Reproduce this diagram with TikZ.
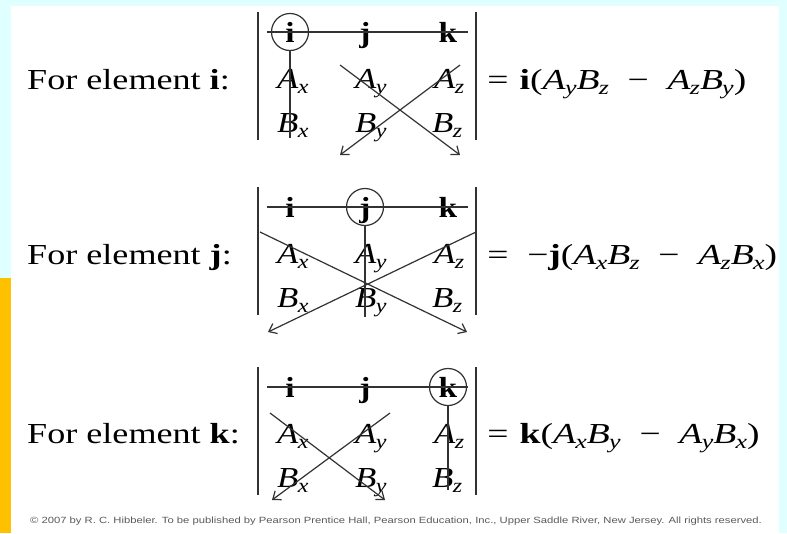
\documentclass[tikz,border=0pt]{standalone}
\usepackage{fontspec}
\setmainfont{Liberation Serif}
\newfontfamily\notefont{Liberation Sans}
\usetikzlibrary{arrows.meta}
\definecolor{skybg}{RGB}{224,255,255}
\definecolor{goldbar}{RGB}{255,192,0}
\definecolor{inkgray}{RGB}{50,50,50}
\definecolor{notegray}{RGB}{90,90,90}
% italic letter with italic subscript
\newcommand{\ent}[2]{\textit{#1}\kern-0.02em\raisebox{-0.45ex}{\fontsize{20}{20}\selectfont\textit{#2}}}
\newcommand{\gap}{\hspace{0.5em}}
\newcommand{\eqgap}{\hspace{0.3em}}

\tikzset{
  lbl/.style={font=\fontsize{29}{30}\selectfont, anchor=base west, inner sep=0pt, xscale=1.245},
  entry/.style={font=\fontsize{29}{30}\selectfont, anchor=base west, inner sep=0pt, xscale=1.2},
  result/.style={entry, xscale=1.08},
  unit/.style={font=\fontsize{29}{30}\selectfont\bfseries, anchor=base, inner sep=0pt, xscale=1.15},
  bar/.style={line width=1.6pt, inkgray},
  strike/.style={line width=1.2pt, inkgray},
  cross/.style={strike, -{Straight Barb[length=7pt,width=11pt]}},
  pick/.style={draw=inkgray, line width=1.2pt, circle, minimum size=37pt, inner sep=0pt},
}

\begin{document}
\begin{tikzpicture}[x=1pt,y=-1pt]
  \fill[skybg] (0,0) rectangle (787,533);
  \fill[goldbar] (0,278) rectangle (11,533);
  \fill[white] (11,6) rectangle (779,533);

  % determinant frame, unit row and entries
  \foreach \p/\r in {1/32,2/207,3/387} {
    \draw[bar] (258,\r-20) -- (258,\r+108);
    \draw[bar] (476,\r-20) -- (476,\r+108);
    \node[unit] (i\p) at (290,\r+10) {i};
    \node[unit] (j\p) at (365,\r+10) {j};
    \node[unit] (k\p) at (448,\r+10) {k};
    \coordinate (sl\p) at (267,\r);
    \coordinate (sr\p) at (468,\r);
    \draw[strike] (sl\p) -- (sr\p);
    \node[entry] (ax\p) at (277,\r+56) {\ent{A}{x}};
    \node[entry] (ay\p) at (355,\r+56) {\ent{A}{y}};
    \node[entry] (az\p) at (434,\r+56) {\ent{A}{z}};
    \node[entry] (bx\p) at (277,\r+100) {\ent{B}{x}};
    \node[entry] (by\p) at (355,\r+100) {\ent{B}{y}};
    \node[entry] (bz\p) at (432,\r+100) {\ent{B}{z}};
  }

  % element i
  \node[lbl] (li) at (27,89) {For element \textbf{i}:};
  \node[pick] (ci) at (290,32) {};
  \coordinate (vi) at (290,138);
  \draw[strike] (ci.south) -- (vi);
  \coordinate (pa) at (340,65); \coordinate (pb) at (460,155);
  \coordinate (pc) at (460,65); \coordinate (pd) at (340,155);
  \draw[cross] (pa) -- (pb);
  \draw[cross] (pc) -- (pd);
  \node[result] (ri) at (487,89) {=\eqgap\textbf{i}(\ent{A}{y}\ent{B}{z}\gap−\gap\ent{A}{z}\ent{B}{y})};

  % element j
  \node[lbl] (lj) at (27,264) {For element \textbf{j}:};
  \node[pick] (cj) at (365,207) {};
  \coordinate (vj) at (365,317);
  \draw[strike] (cj.south) -- (vj);
  \coordinate (qa) at (260,232); \coordinate (qb) at (467,332);
  \coordinate (qc) at (476,232); \coordinate (qd) at (268,332);
  \draw[cross] (qa) -- (qb);
  \draw[cross] (qc) -- (qd);
  \node[result] (rj) at (487,264) {=\gap−\textbf{j}(\ent{A}{x}\ent{B}{z}\gap−\gap\ent{A}{z}\ent{B}{x})};

  % element k
  \node[lbl] (lk) at (27,443) {For element \textbf{k}:};
  \node[pick] (ck) at (448,387) {};
  \coordinate (vk) at (448,490);
  \draw[strike] (ck.south) -- (vk);
  \coordinate (ra) at (270,413); \coordinate (rb) at (385,500);
  \coordinate (rc) at (390,413); \coordinate (rd) at (272,500);
  \draw[cross] (ra) -- (rb);
  \draw[cross] (rc) -- (rd);
  \node[result] (rk) at (487,443) {=\eqgap\textbf{k}(\ent{A}{x}\ent{B}{y}\gap−\gap\ent{A}{y}\ent{B}{x})};

  \node[font=\notefont\fontsize{9}{10}\selectfont, text=notegray, xscale=1.25] (note) at (396,521)
    {© 2007 by R. C. Hibbeler. To be published by Pearson Prentice Hall, Pearson Education, Inc., Upper Saddle River, New Jersey. All rights reserved.};
\end{tikzpicture}
\end{document}
